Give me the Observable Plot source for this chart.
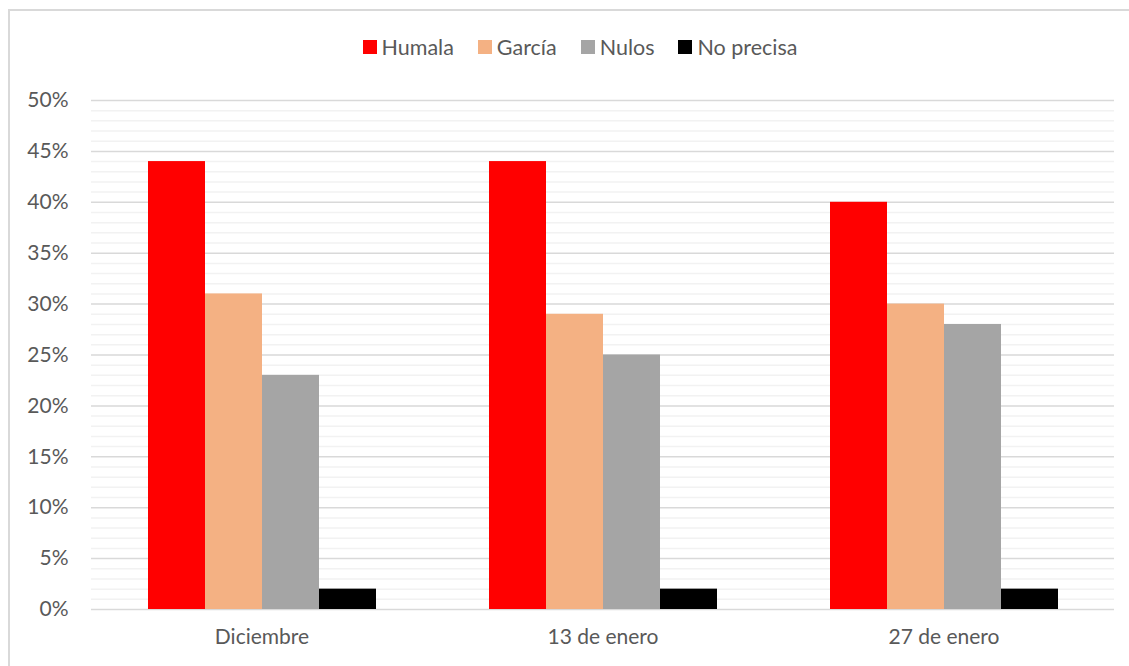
<!DOCTYPE html>
<html>
<head>
<meta charset="utf-8">
<script src="https://cdn.jsdelivr.net/npm/d3@7"></script>
<script src="https://cdn.jsdelivr.net/npm/@observablehq/plot@0.6"></script>
<style>
  html, body { margin: 0; padding: 0; background: #fff; overflow: hidden; }
  #wrap { position: relative; width: 1129px; height: 666px; font-family: Lato, "Liberation Sans", sans-serif; }
  #frame { position: absolute; left: 8px; top: 9px; width: 1200px; height: 700px; border-left: 2px solid #d9d9d9; border-top: 2px solid #d9d9d9; box-sizing: border-box; pointer-events: none; }
  #legend { position: absolute; left: 0; top: 0; width: 1129px; height: 75px; display: flex; justify-content: center; align-items: center; padding-left: 31px; padding-top: 18px; box-sizing: border-box; font-size: 21.5px; color: #595959; }
  .item { display: flex; align-items: center; margin: 0 12px; }
  .sw { width: 14px; height: 14px; margin-right: 5px; }
  #chart { position: absolute; left: 0; top: 75px; }
</style>
</head>
<body>
<div id="wrap">
  <div id="frame"></div>
  <div id="legend"></div>
  <div id="chart"></div>
</div>
<script>
const periods = ["Diciembre", "13 de enero", "27 de enero"];
const series = ["Humala", "García", "Nulos", "No precisa"];
const colors = ["#ff0000", "#f4b183", "#a5a5a5", "#000000"];
const humala = [44, 44, 40];
const garcia = [31, 29, 30];
const nulos = [23, 25, 28];
const noPrecisa = [2, 2, 2];
const yTicks = [0, 5, 10, 15, 20, 25, 30, 35, 40, 45, 50];
const minorTicks = d3.range(0, 51, 1).filter(d => d % 5 !== 0);

const valuesBySeries = [humala, garcia, nulos, noPrecisa];
const data = [];
periods.forEach((p, i) => {
  series.forEach((s, j) => data.push({period: p, series: s, value: valuesBySeries[j][i]}));
});

const legend = document.getElementById("legend");
series.forEach((s, j) => {
  const it = document.createElement("div");
  it.className = "item";
  it.innerHTML = `<div class="sw" style="background:${colors[j]}"></div><span>${s}</span>`;
  legend.appendChild(it);
});

const chart = Plot.plot({
  width: 1129,
  height: 591,
  marginLeft: 90,
  marginRight: 15,
  marginTop: 25,
  marginBottom: 57,
  style: { fontFamily: "Lato, 'Liberation Sans', sans-serif", fontSize: "21px", color: "#595959", background: "transparent" },
  fx: { domain: periods, padding: 0, axis: "bottom", label: null, tickSize: 0, tickPadding: 20 },
  x: { domain: series, paddingInner: 0, paddingOuter: 0.98, axis: null },
  y: { domain: [0, 50], ticks: yTicks, tickFormat: d => d + "%", tickSize: 0, tickPadding: 23, label: null },
  color: { domain: series, range: colors },
  marks: [
    Plot.ruleY(minorTicks, { stroke: "#f2f2f2", strokeWidth: 1.5 }),
    Plot.ruleY(yTicks, { stroke: "#d9d9d9", strokeWidth: 1.5 }),
    Plot.barY(data, { fx: "period", x: "series", y: "value", fill: "series" })
  ]
});
document.getElementById("chart").appendChild(chart);
</script>
</body>
</html>
